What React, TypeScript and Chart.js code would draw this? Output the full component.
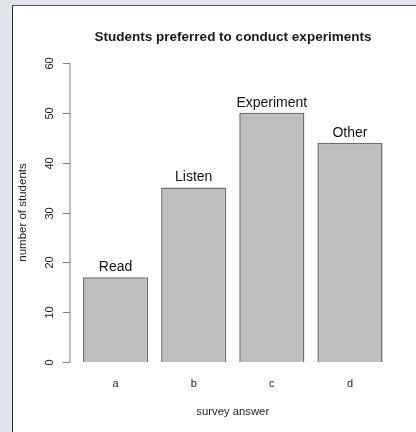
import React, { useEffect, useRef } from "react";
import { Chart, registerables } from "chart.js";

Chart.register(...registerables);

const categories = ["a", "b", "c", "d"];
const barLabels = ["Read", "Listen", "Experiment", "Other"];
const values = [17, 35, 50, 44];
const yTicks = [0, 10, 20, 30, 40, 50, 60];
const titleText = "Students preferred to conduct experiments";
const xTitle = "survey answer";
const yTitle = "number of students";

const FONT = "'Liberation Sans', Arial, Helvetica, sans-serif";

const rStylePlugin = {
  id: "rStyle",
  afterDatasetsDraw(chart: any) {
    const { ctx, chartArea, scales } = chart;
    const x = scales.x;
    const y = scales.y;
    ctx.save();
    // title
    ctx.fillStyle = "#1a1a1a";
    ctx.font = `bold 13.5px ${FONT}`;
    ctx.textAlign = "center";
    ctx.textBaseline = "middle";
    ctx.fillText(titleText, 233, 37);

    // y axis line and ticks
    const axisX = chartArea.left - 6.5;
    ctx.strokeStyle = "#808080";
    ctx.lineWidth = 1;
    ctx.beginPath();
    ctx.moveTo(axisX, Math.round(y.getPixelForValue(yTicks[0])) + 0.5);
    ctx.lineTo(axisX, Math.round(y.getPixelForValue(yTicks[yTicks.length - 1])) + 0.5);
    ctx.stroke();
    ctx.font = `11px ${FONT}`;
    ctx.fillStyle = "#222";
    for (const t of yTicks) {
      const py = Math.round(y.getPixelForValue(t)) + 0.5;
      ctx.beginPath();
      ctx.moveTo(axisX - 7, py);
      ctx.lineTo(axisX, py);
      ctx.stroke();
      ctx.save();
      ctx.translate(axisX - 20, py);
      ctx.rotate(-Math.PI / 2);
      ctx.textAlign = "center";
      ctx.textBaseline = "middle";
      ctx.fillText(String(t), 0, 0);
      ctx.restore();
    }
    // y title
    ctx.save();
    ctx.font = `11.5px ${FONT}`;
    ctx.translate(23, (y.getPixelForValue(0) + y.getPixelForValue(60)) / 2);
    ctx.rotate(-Math.PI / 2);
    ctx.textAlign = "center";
    ctx.textBaseline = "middle";
    ctx.fillText(yTitle, 0, 0);
    ctx.restore();

    // x tick labels
    ctx.font = `11px ${FONT}`;
    ctx.textAlign = "center";
    ctx.textBaseline = "middle";
    categories.forEach((c, i) => {
      ctx.fillText(c, x.getPixelForValue(i), 384);
    });
    // x title
    ctx.font = `11.3px ${FONT}`;
    ctx.fillText(xTitle, (chartArea.left + chartArea.right) / 2, 412);

    // bar labels
    ctx.font = `14px ${FONT}`;
    ctx.fillStyle = "#111";
    values.forEach((v, i) => {
      ctx.fillText(barLabels[i], x.getPixelForValue(i), y.getPixelForValue(v) - 10);
    });
    ctx.restore();
  },
};

export default function App() {
  const ref = useRef<HTMLCanvasElement>(null);
  useEffect(() => {
    if (!ref.current) return;
    const chart = new Chart(ref.current, {
      type: "bar",
      data: {
        labels: categories,
        datasets: [
          {
            data: values,
            backgroundColor: "#bebebe",
            borderColor: "#6e6e6e",
            borderWidth: 1.5,
            categoryPercentage: 1,
            barPercentage: 1 / 1.2,
          },
        ],
      },
      options: {
        responsive: false,
        animation: false,
        devicePixelRatio: 1,
        layout: { padding: { left: 76.5, right: 27, top: 63, bottom: 70 } },
        plugins: { legend: { display: false }, title: { display: false }, tooltip: { enabled: false } },
        scales: {
          x: { display: false, offset: true },
          y: { display: false, min: 0, max: 60 },
        },
      },
      plugins: [rStylePlugin],
    });
    return () => chart.destroy();
  }, []);

  return (
    <div style={{ position: "fixed", left: 0, top: 0, width: 416, height: 432, background: "#e1e5ee", overflow: "hidden" }}>
      <div
        style={{
          position: "absolute",
          left: 12,
          top: 5,
          width: 420,
          height: 440,
          background: "#ffffff",
          borderLeft: "1px solid #333",
          borderTop: "1px solid #555",
        }}
      />
      <canvas ref={ref} width={416} height={432} style={{ position: "absolute", left: 0, top: 0 }} />
    </div>
  );
}
